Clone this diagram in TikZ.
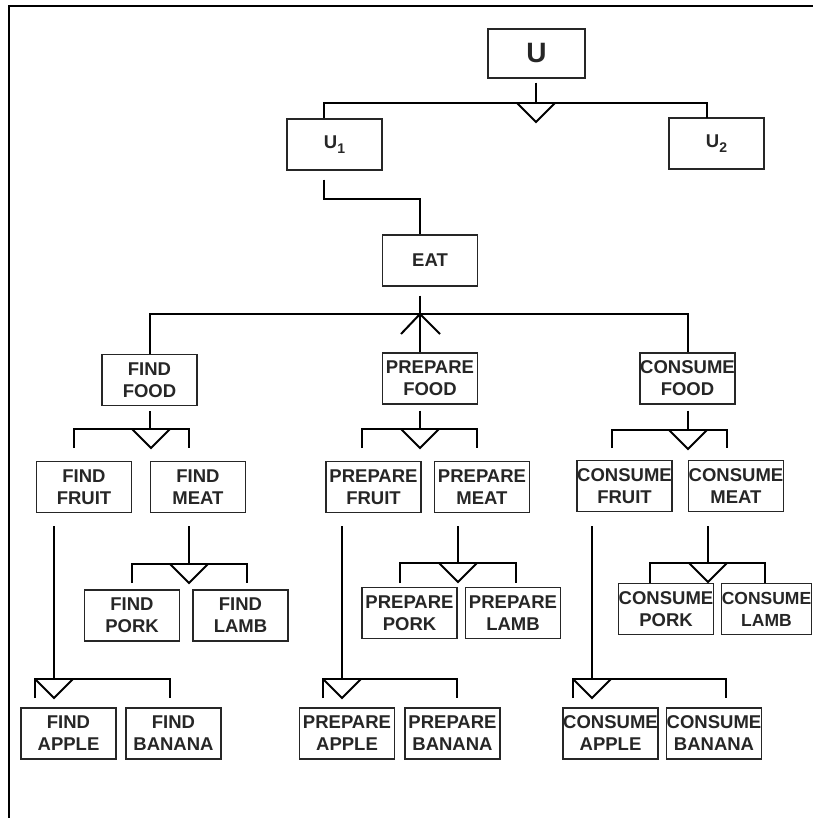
\documentclass[tikz,border=0pt]{standalone}
\usepackage{fontspec}
\setmainfont{Liberation Sans}
\usetikzlibrary{calc}

% lowered index digit, as in U1 / U2
\newcommand\lowidx[1]{\raisebox{-5pt}{\fontsize{14}{14}\selectfont #1}}

% decomposition fork below a parent box:
% #1 parent node, #2 gap under parent, #3 stem x, #4 bar y,
% #5 bar left x, #6 bar right x, #7 drop end y, #8 triangle centre x
\newcommand\fork[8]{%
  \coordinate (j) at (#3,#4);
  \draw[link] ($(#1.south -| j)+(0,#2)$) -- (j);
  \draw[link] (#5,#7) -- (#5,#4) -- (#6,#4) -- (#6,#7);
  \draw[link] (#8-19,#4) -- (#8,#4+19) -- (#8+19,#4);
}

\begin{document}
\begin{tikzpicture}[x=1pt,y=-1pt,
  box/.style={draw=black!85, line width=1.3pt, rectangle,
    minimum width=95pt, minimum height=51pt, inner sep=0pt,
    align=center, font=\fontsize{18.5}{22}\selectfont\bfseries, text=black!85},
  link/.style={draw=black, line width=2pt},
  frameline/.style={draw=black, line width=2pt}]
\useasboundingbox (0,0) rectangle (813,818);

% outer frame (top and left edges)
\draw[frameline] (8.5,818) -- (8.5,6) -- (813,6);

% goal boxes
\node[box, minimum width=97pt, minimum height=49pt,
      font=\fontsize{28}{28}\selectfont\bfseries] (u) at (536.5,53.5) {U};
\node[box] (u1) at (334.5,144.5) {U\lowidx{1}};
\node[box] (u2) at (716.5,143.5) {U\lowidx{2}};
\node[box] (eat) at (430,260.5) {EAT};

\node[box] (ff) at (149.5,380) {FIND\\FOOD};
\node[box] (pf) at (430,378.5) {PREPARE\\FOOD};
\node[box] (cf) at (687.5,378.5) {CONSUME\\FOOD};

\node[box] (ffr) at (84,487) {FIND\\FRUIT};
\node[box] (fm) at (198,487) {FIND\\MEAT};
\node[box] (pfr) at (373.5,487) {PREPARE\\FRUIT};
\node[box] (pm) at (482,487) {PREPARE\\MEAT};
\node[box] (cfr) at (624.5,486) {CONSUME\\FRUIT};
\node[box] (cm) at (736,486) {CONSUME\\MEAT};

\node[box] (fpo) at (132,615.5) {FIND\\PORK};
\node[box] (fla) at (240.5,615.5) {FIND\\LAMB};
\node[box] (ppo) at (409.5,613) {PREPARE\\PORK};
\node[box] (pla) at (513,613) {PREPARE\\LAMB};
\node[box] (cpo) at (666,609) {CONSUME\\PORK};
\node[box, minimum width=90pt, font=\fontsize{17.5}{22}\selectfont\bfseries]
      (cla) at (766.5,609) {CONSUME\\LAMB};

\node[box] (fap) at (68.5,733.5) {FIND\\APPLE};
\node[box] (fba) at (173.5,733.5) {FIND\\BANANA};
\node[box] (pap) at (347,733.5) {PREPARE\\APPLE};
\node[box] (pba) at (452.5,733.5) {PREPARE\\BANANA};
\node[box] (cap) at (610.5,733.5) {CONSUME\\APPLE};
\node[box] (cba) at (714,733.5) {CONSUME\\BANANA};

% U splits into U1 and U2
\fork{u}{4}{536}{103}{324}{707}{118.5}{536}

% U1 leads to EAT
\coordinate (k1) at (324,199);
\coordinate (k2) at (420,199);
\draw[link] ($(u1.south -| k1)+(0,9)$) -- (k1) -- (k2) -- (eat.north -| k2);

% EAT splits into the three food steps
\coordinate (e0) at (420,314);
\draw[link] ($(eat.south -| e0)+(0,9)$) -- (e0);
\draw[link] (ff.north -| 150,0) -- (150,314) -- (688,314) -- (cf.north -| 688,0);
\draw[link] (e0) -- (pf.north -| e0);
\draw[link] (401,334) -- (e0) -- (440,334);

% food steps split into fruit and meat
\fork{ff}{5}{150}{429}{74}{189}{448}{151}
\fork{pf}{6}{420}{429}{362}{477}{448}{420}
\fork{cf}{6}{688}{430}{612}{727}{448}{688}

% meat splits into pork and lamb
\fork{fm}{13}{189}{564}{132}{247}{583}{189}
\fork{pm}{13}{458}{563}{400}{516}{583}{458}
\fork{cm}{14}{708}{563}{650}{765}{583}{708}

% fruit splits into apple and banana
\fork{ffr}{13}{54}{679}{35}{170}{698}{54}
\fork{pfr}{13}{342}{679}{323}{457}{698}{342}
\fork{cfr}{14}{592}{679}{573}{726}{698}{592}
\end{tikzpicture}
\end{document}
